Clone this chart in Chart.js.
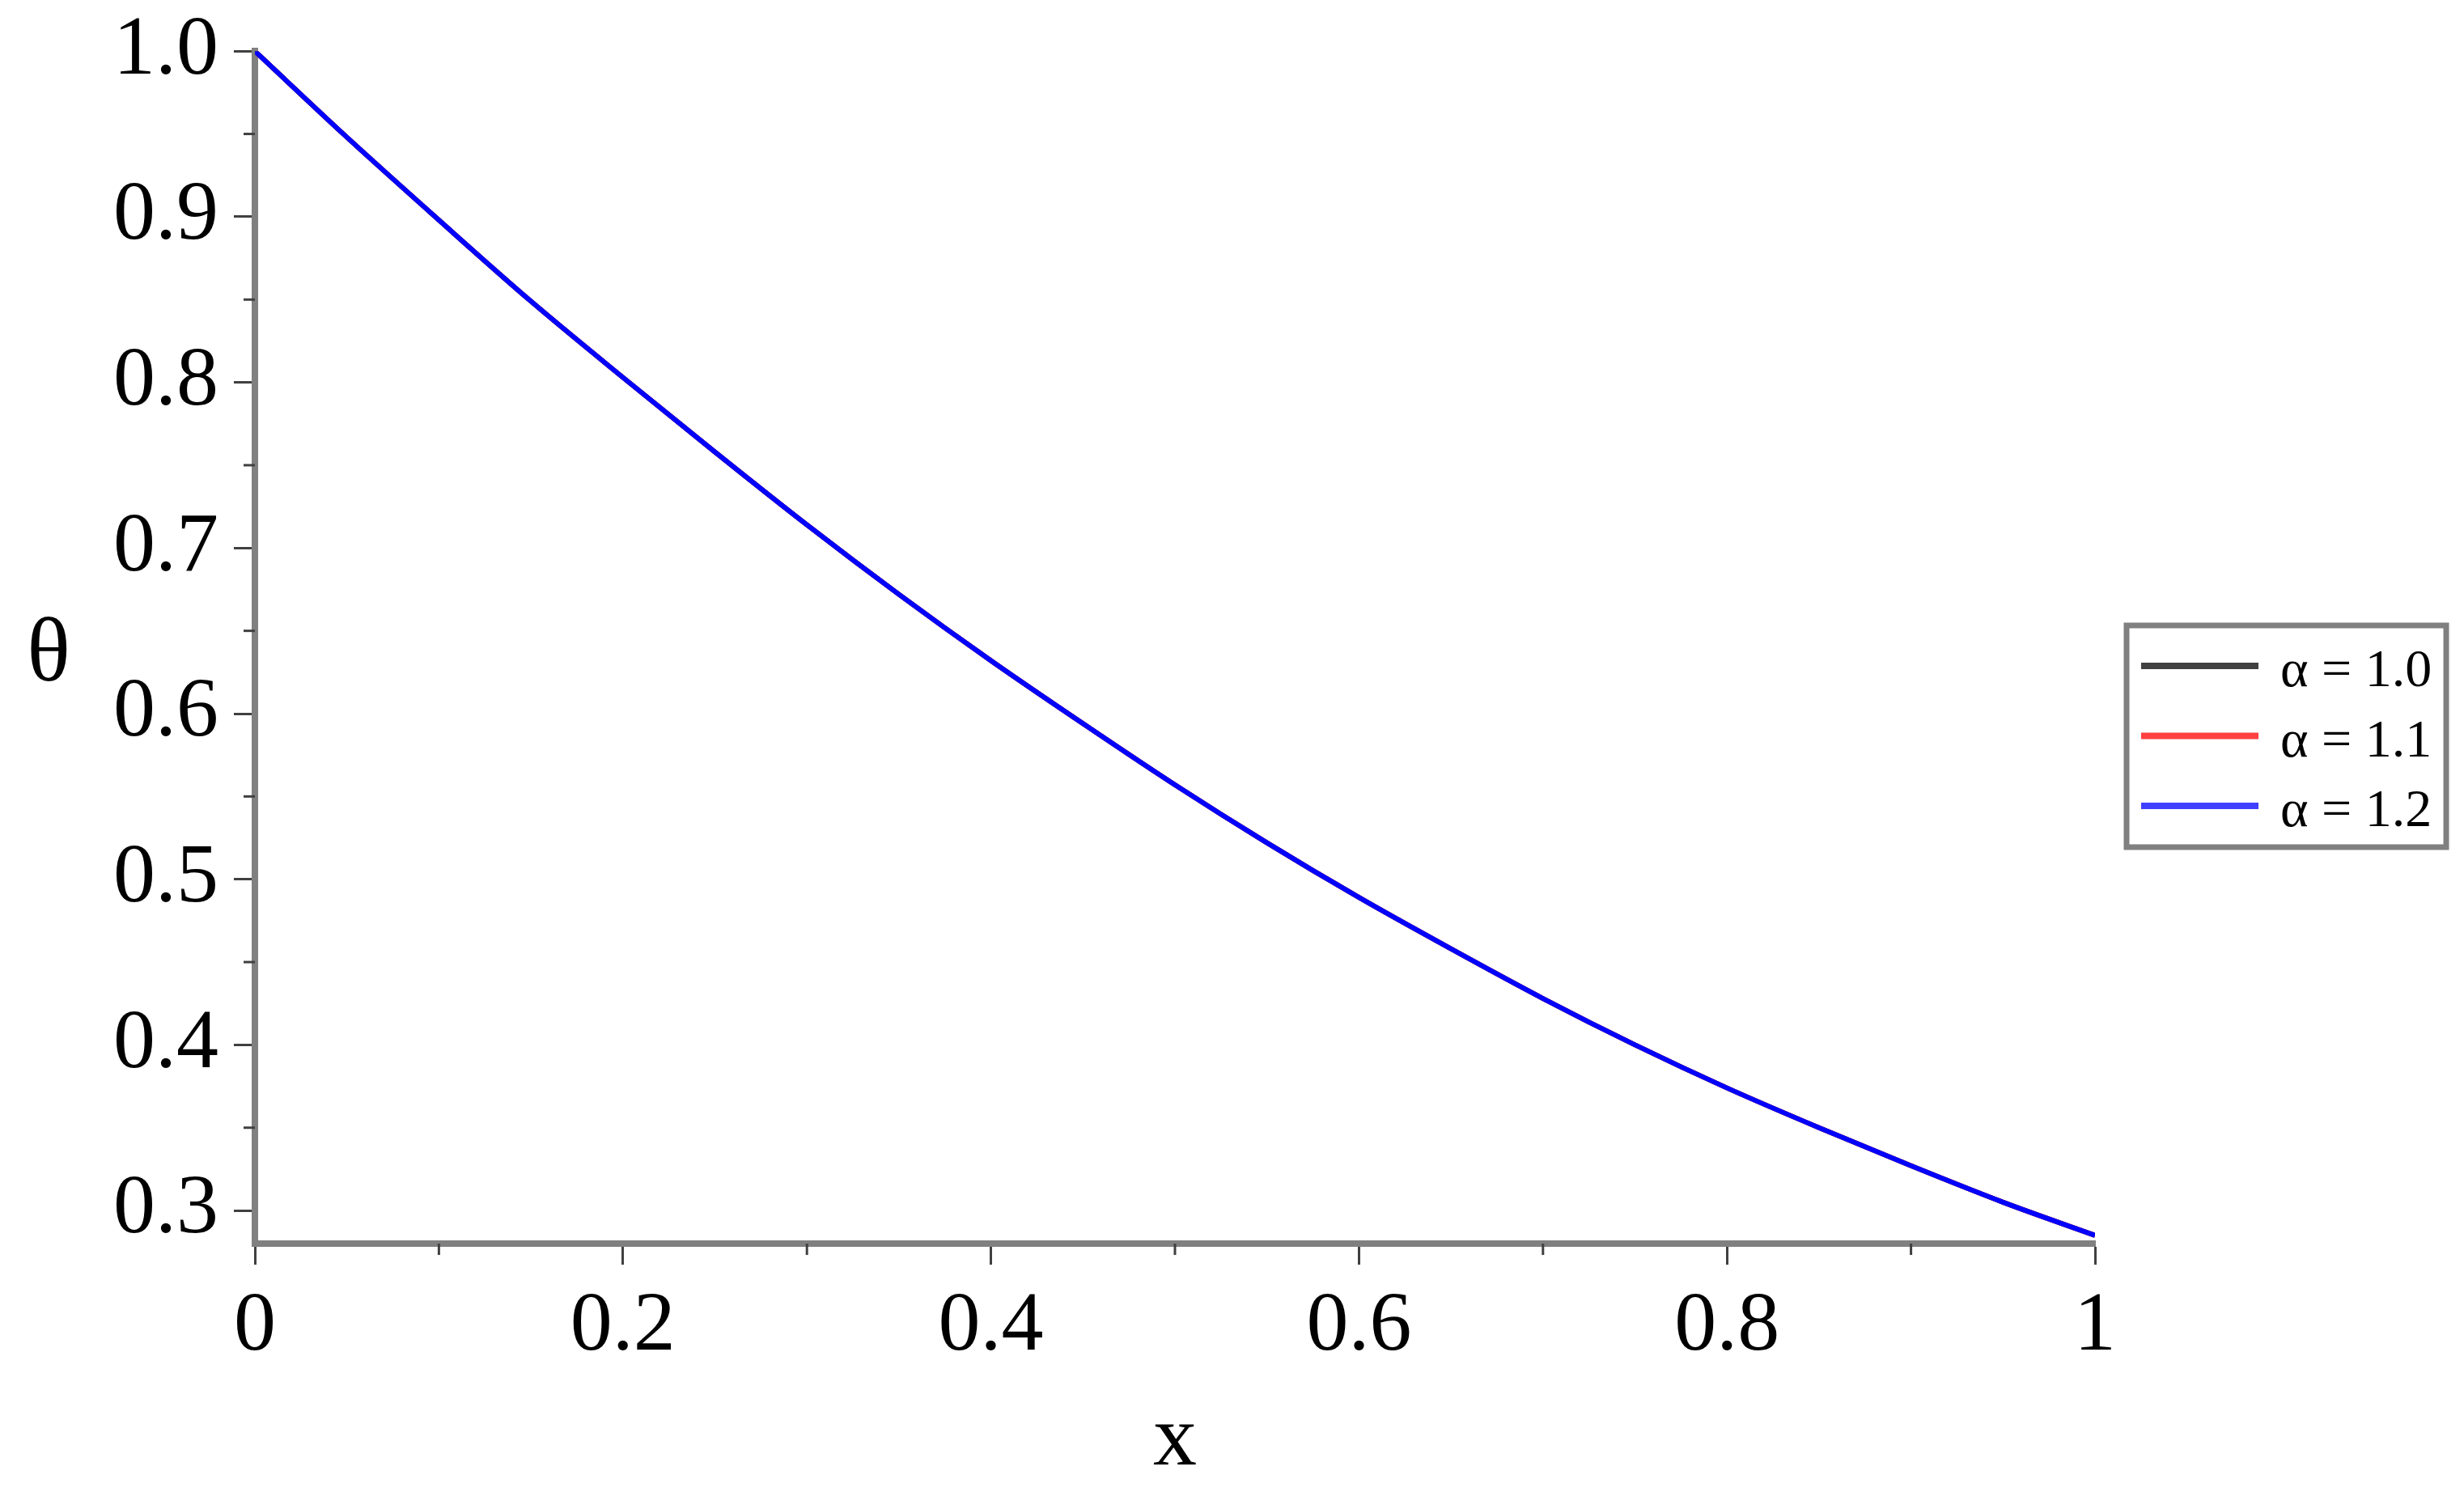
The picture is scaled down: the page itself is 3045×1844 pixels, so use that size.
<!DOCTYPE html>
<html><head><meta charset="utf-8">
<script src="https://cdn.jsdelivr.net/npm/chart.js@4/dist/chart.umd.min.js"></script>
<style>html,body{margin:0;padding:0;background:#fff;overflow:hidden}canvas{display:block}</style>
</head><body>
<canvas id="c" width="3045" height="1844"></canvas>
<script>
// ---- data ----
const xValues      = [0, 0.05, 0.1, 0.15, 0.2, 0.25, 0.3, 0.35, 0.4, 0.45, 0.5, 0.55, 0.6, 0.65, 0.7, 0.75, 0.8, 0.85, 0.9, 0.95, 1.0];
const thetaAlpha10 = [1.000, 0.948, 0.898, 0.849, 0.803, 0.758, 0.714, 0.672, 0.632, 0.594, 0.557, 0.522, 0.489, 0.458, 0.428, 0.400, 0.374, 0.350, 0.327, 0.305, 0.285];
const thetaAlpha11 = [1.000, 0.948, 0.898, 0.849, 0.803, 0.758, 0.714, 0.672, 0.632, 0.594, 0.557, 0.522, 0.489, 0.458, 0.428, 0.400, 0.374, 0.350, 0.327, 0.305, 0.285];
const thetaAlpha12 = [1.000, 0.948, 0.898, 0.849, 0.803, 0.758, 0.714, 0.672, 0.632, 0.594, 0.557, 0.522, 0.489, 0.458, 0.428, 0.400, 0.374, 0.350, 0.327, 0.305, 0.285];
const seriesLabels = ['α = 1.0', 'α = 1.1', 'α = 1.2'];
const seriesColors = ['#202020', '#FF2020', '#0000FF'];
const legendColors = ['#404040', '#FF4040', '#4040FF'];
const xMajorTicks  = [0, 0.2, 0.4, 0.6, 0.8, 1];
const xMinorTicks  = [0.1, 0.3, 0.5, 0.7, 0.9];
const yMajorTicks  = [0.3, 0.4, 0.5, 0.6, 0.7, 0.8, 0.9, 1.0];
const yMinorTicks  = [0.35, 0.45, 0.55, 0.65, 0.75, 0.85, 0.95];
const xTitle = 'x';
const yTitle = 'θ';
const yMin = 0.28, yMax = 1.0;

const SERIF = "'Liberation Serif', 'Times New Roman', serif";
const toPts = ys => xValues.map((x, i) => ({x: x, y: ys[i]}));
const allSeries = [thetaAlpha10, thetaAlpha11, thetaAlpha12];

const extras = {
  id: 'extras',
  afterDraw(chart) {
    const ctx = chart.ctx, a = chart.chartArea;
    const xs = chart.scales.x, ys = chart.scales.y;
    ctx.save();
    // minor ticks
    ctx.strokeStyle = '#404040'; ctx.lineWidth = 3;
    xMinorTicks.forEach(v => {
      const px = xs.getPixelForValue(v);
      ctx.beginPath(); ctx.moveTo(px, a.bottom); ctx.lineTo(px, a.bottom + 14); ctx.stroke();
    });
    yMinorTicks.forEach(v => {
      const py = ys.getPixelForValue(v);
      ctx.beginPath(); ctx.moveTo(a.left - 14, py); ctx.lineTo(a.left, py); ctx.stroke();
    });
    // upright y title
    ctx.fillStyle = '#000';
    ctx.font = '112px ' + SERIF;
    ctx.textAlign = 'center'; ctx.textBaseline = 'middle';
    ctx.fillText(yTitle, 60, 812);
    // legend
    const bx = a.right + 39, by = 773, bw = 395, bh = 274;
    ctx.fillStyle = '#fff';
    ctx.fillRect(bx, by, bw, bh);
    ctx.strokeStyle = '#808080'; ctx.lineWidth = 7;
    ctx.strokeRect(bx, by, bw, bh);
    ctx.font = '66px ' + SERIF;
    ctx.textAlign = 'left'; ctx.textBaseline = 'middle';
    seriesLabels.forEach((lab, i) => {
      const ry = by + 50 + i * 86.5;
      ctx.strokeStyle = legendColors[i]; ctx.lineWidth = 8;
      ctx.beginPath(); ctx.moveTo(bx + 18, ry); ctx.lineTo(bx + 163, ry); ctx.stroke();
      ctx.fillStyle = '#000';
      ctx.fillText(lab, bx + 190, ry + 8);
    });
    ctx.restore();
  }
};

new Chart(document.getElementById('c'), {
  type: 'line',
  data: {
    datasets: allSeries.map((s, i) => ({
      label: seriesLabels[i],
      data: toPts(s),
      borderColor: seriesColors[i],
      borderWidth: 6,
      pointRadius: 0,
      fill: false,
      cubicInterpolationMode: 'monotone',
      order: 3 - i
    }))
  },
  options: {
    responsive: false,
    animation: false,
    devicePixelRatio: 1,
    layout: { padding: { left: 121, right: 456, top: 0, bottom: 0 } },
    plugins: { legend: { display: false }, tooltip: { enabled: false } },
    scales: {
      x: {
        type: 'linear', min: 0, max: 1,
        afterBuildTicks: sc => { sc.ticks = xMajorTicks.map(v => ({value: v})); },
        ticks: {
          color: '#000', padding: 26, maxRotation: 0, autoSkip: false,
          font: { family: SERIF, size: 104, lineHeight: 1 },
          callback: v => (v === 0 ? '0' : v === 1 ? '1' : v.toFixed(1))
        },
        grid: { drawOnChartArea: false, drawTicks: true, tickLength: 26, tickColor: '#404040', tickWidth: 3 },
        border: { display: true, color: '#808080', width: 8 },
        title: { display: true, text: xTitle, color: '#000', font: { family: SERIF, size: 108, lineHeight: 1.12 }, padding: { top: 2, bottom: 2 } }
      },
      y: {
        type: 'linear', min: yMin, max: yMax,
        afterBuildTicks: sc => { sc.ticks = yMajorTicks.map(v => ({value: v})); },
        ticks: {
          color: '#000', padding: 19, autoSkip: false,
          font: { family: SERIF, size: 104, lineHeight: 0.85 },
          callback: v => v.toFixed(1)
        },
        grid: { drawOnChartArea: false, drawTicks: true, tickLength: 26, tickColor: '#404040', tickWidth: 3 },
        border: { display: true, color: '#808080', width: 8 },
        title: { display: false }
      }
    }
  },
  plugins: [extras]
});
</script>
</body></html>
